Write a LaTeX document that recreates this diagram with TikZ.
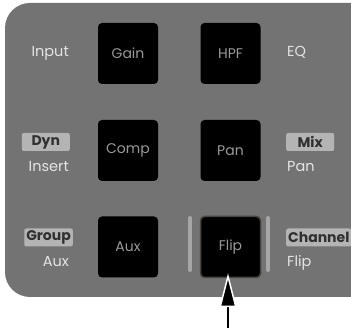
\documentclass[tikz,border=0pt]{standalone}
\usepackage{fontspec}
\setmainfont{Poppins}
\usetikzlibrary{arrows.meta}

\definecolor{panelgray}{HTML}{737373}
\definecolor{keytext}{HTML}{9A9A9A}
\definecolor{labeltext}{HTML}{E4E4E4}
\definecolor{badgegray}{HTML}{B4B4B4}
\definecolor{badgetext}{HTML}{303030}
\definecolor{barcol}{HTML}{A6A6A6}
\definecolor{flipedge}{HTML}{4A4540}

\begin{document}
\begin{tikzpicture}[x=1pt, y=-1pt,
  key/.style={fill=black, rounded corners=4pt, minimum width=60pt, minimum height=61pt,
    inner sep=0pt, text=keytext, font=\fontsize{14}{14}\selectfont},
  label/.style={inner sep=0pt, text=labeltext, font=\fontsize{14.5}{14.5}\selectfont},
  badge/.style={fill=badgegray, rounded corners=2pt, minimum width=48pt, minimum height=18pt,
    inner xsep=2pt, inner ysep=0pt, text=badgetext, font=\fontsize{14}{14}\selectfont\bfseries},
  bar/.style={barcol, line width=4pt, line cap=round}]
  % Size of the picture
  \useasboundingbox (0,0) rectangle (351,328);

  % Panel
  \fill[panelgray, rounded corners=25pt] (5,3) rectangle (376,297);

  % Keys
  \node[key] (gain) at (128,53.5) {Gain};
  \node[key] (hpf) at (230.5,53.5) {HPF};
  \node[key] (comp) at (128,150.5) {Comp};
  \node[key] (pan) at (230.5,150.5) {Pan};
  \node[key] (aux) at (128,247) {Aux};
  \node[key, draw=flipedge, line width=1.5pt] (flip) at (230.5,247) {Flip};

  % Bars beside Flip
  \draw[bar] (190,218) -- (190,270);
  \draw[bar] (268,218) -- (268,270);

  % Left labels
  \node[label, anchor=base east] (input) at (69,57) {Input};
  \node[badge, anchor=east] (dyn) at (70,142) {Dyn};
  \node[label, anchor=base east] (insert) at (69,172) {Insert};
  \node[badge, anchor=east] (group) at (73,237.5) {Group};
  \node[label, anchor=base east] (auxlbl) at (69,267) {Aux};

  % Right labels
  \node[label, anchor=base west] (eq) at (287,57) {EQ};
  \node[badge, anchor=west] (mix) at (286,142) {Mix};
  \node[label, anchor=base west] (panlbl) at (287,172) {Pan};
  \node[badge, anchor=west] (channel) at (286,237.5) {Channel};
  \node[label, anchor=base west] (fliplbl) at (287,267) {Flip};

  % Arrow to Flip
  \coordinate (arrowstart) at (228,328);
  \draw[line width=2pt, -{Triangle[width=17pt, length=34pt, color=white, fill=black, line width=1.5pt]}]
    (arrowstart) -- ([xshift=-2.5pt, yshift=5pt]flip.south);
\end{tikzpicture}
\end{document}
